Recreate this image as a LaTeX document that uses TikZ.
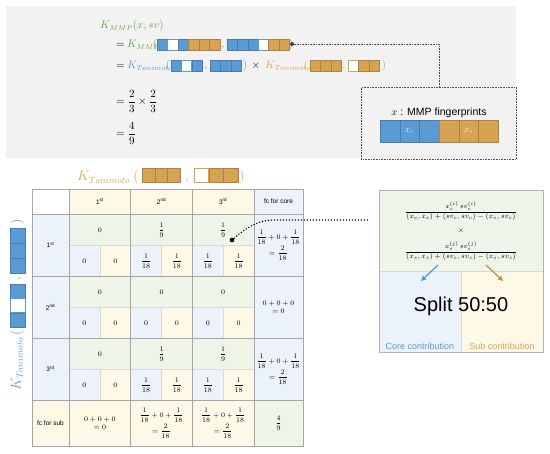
\RequirePackage{fix-cm}
\documentclass[tikz,border=0pt]{standalone}
\usepackage{amsmath}
\usepackage{fontspec}
\setsansfont{Liberation Sans}
\usetikzlibrary{positioning,arrows.meta}
\DeclareMathSizes{11}{11}{7}{5}
\DeclareMathSizes{14}{14}{9}{6}
\definecolor{mblue}{RGB}{91,155,213}
\definecolor{morange}{RGB}{214,163,82}
\definecolor{mgreen}{RGB}{106,160,72}
\definecolor{panel}{RGB}{242,242,242}
\definecolor{lgreen}{RGB}{238,245,232}
\definecolor{lblue}{RGB}{236,242,250}
\definecolor{lyellow}{RGB}{254,249,231}
\newcommand\qf[2]{\dfrac{#1}{#2}}
\newcommand\fcone{$\qf1{18}+0+\qf1{18}$\\$=\qf2{18}$}
\newcommand\fczero{$0+0+0$\\$=0$}
% bit strings: x, y, cell width, cell height, cell styles
\newcommand\fprow[5]{\foreach \s [count=\i from 0] in {#5}{\edef\tmp{\noexpand\draw[\s]}\tmp ({#1+\i*#3},#2) rectangle ++(#3,#4);}}
\newcommand\fpcol[5]{\foreach \s [count=\i from 0] in {#5}{\edef\tmp{\noexpand\draw[\s]}\tmp (#1,{#2+\i*#4}) rectangle ++(#3,#4);}}
\begin{document}
\begin{tikzpicture}[x=1pt,y=-1pt,line join=round,>=stealth,
    bb/.style={fill=mblue,draw=mblue!80!black,line width=.3pt},
    bw/.style={fill=white,draw=mblue,line width=.8pt},
    oo/.style={fill=morange,draw=morange!80!black,line width=.3pt},
    ow/.style={fill=white,draw=morange,line width=.8pt},
    ftxt/.style={inner sep=0pt,font=\fontsize{11}{13}\selectfont},
    fbig/.style={inner sep=0pt,font=\fontsize{14}{16}\selectfont},
    cell/.style={inner sep=0pt,align=center,font=\fontsize{7}{8}\selectfont},
    lab/.style={inner sep=0pt,font=\sffamily\fontsize{6.5}{7}\selectfont},
    major/.style={draw=black!35,line width=.7pt},
    minor/.style={draw=black!15,line width=.5pt},
    bigdots/.style={line width=1.6pt,dash pattern=on 0pt off 3pt,line cap=round}]
\useasboundingbox (0,0) rectangle (550,454);
% top panel
\fill[panel] (6,6) rectangle (516,158);
\node[ftxt,anchor=base west,text=mgreen] (kxsv) at (100,29) {$K_{MMP}(x,sv)$};
\node[ftxt,anchor=base west] (eqa) at (116,48) {$=$};
\node[ftxt,anchor=base west,text=mgreen] (kmmp) at (127,48) {$K_{MMP}$};
\node[ftxt,anchor=base,text=mgreen] (pa) at (155,48) {$($};
\fprow{157}{39}{10.5}{11}{bb,bw,bb,oo,oo,oo}
\node[ftxt,anchor=base,text=mgreen] (ca) at (223,48) {$,$};
\fprow{227}{39}{10.33}{11}{bb,bb,bb,bw,oo,oo}
\node[ftxt,anchor=base,text=mgreen] (pb) at (291,48) {$)$};
\coordinate (mmpdot) at (292,44);
\fill[black!75] (mmpdot) circle (2pt);
\node[ftxt,anchor=base west] (eqb) at (116,69) {$=$};
\node[ftxt,anchor=base west,text=mblue] (ktc) at (127,69) {$K_{Tanimoto}$};
\node[ftxt,anchor=base,text=mblue] (pc) at (168,69) {$($};
\fprow{171}{60}{10.33}{11}{bb,bw,bb}
\node[ftxt,anchor=base,text=mblue] (cc) at (206,69) {$,$};
\fprow{210}{60}{10.33}{11}{bb,bb,bb}
\node[ftxt,anchor=base,text=mblue] (pd) at (245,69) {$)$};
\node[ftxt,anchor=base] (tms) at (256,69) {$\times$};
\node[ftxt,anchor=base west,text=morange] (kts) at (265,69) {$K_{Tanimoto}$};
\node[ftxt,anchor=base,text=morange] (pe) at (306,69) {$($};
\fprow{310}{60}{10.33}{11}{oo,oo,oo}
\node[ftxt,anchor=base,text=morange] (cs) at (344,69) {$,$};
\fprow{348}{60}{10.33}{11}{ow,oo,oo}
\node[ftxt,anchor=base,text=morange] (pf) at (384,69) {$)$};
\node[ftxt,anchor=west] (eqc) at (116,101) {$=\dfrac{2}{3}\times\dfrac{2}{3}$};
\node[ftxt,anchor=west] (eqd) at (116,133) {$=\dfrac{4}{9}$};
% fingerprint legend
\node[draw=black!70,densely dotted,line width=.6pt,inner sep=0pt,minimum width=155pt,minimum height=72pt,anchor=north west] (fpbox) at (361,87) {};
\draw[black!70,densely dotted,line width=.6pt] (mmpdot) -| (fpbox.north);
\node[inner sep=0pt,font=\sffamily\fontsize{10.5}{12}\selectfont] (fplab) at (439,113) {$x$ : MMP fingerprints};
\fprow{380}{120}{19.67}{22}{bb,bb,bb,oo,oo,oo}
\node[inner sep=0pt,font=\fontsize{9}{10}\selectfont,text=white!80!mblue] (xc) at (409.5,131) {$x_c$};
\node[inner sep=0pt,font=\fontsize{9}{10}\selectfont,text=white!80!morange] (xs) at (468.5,131) {$x_s$};
% table
\def\cw{61.67}
\node[fbig,anchor=base west,text=morange] (ktab) at (77,181) {$K_{Tanimoto}$};
\node[fbig,anchor=base,text=morange] (pg) at (136,181) {$($};
\fprow{142}{168}{12.67}{14}{oo,oo,oo}
\node[fbig,anchor=base,text=morange] (cg) at (187,181) {$,$};
\fprow{194}{168}{14.67}{14}{ow,oo,oo}
\node[fbig,anchor=base,text=morange] (ph) at (242,181) {$)$};
\node[fbig,rotate=90,text=mblue] (kvert) at (17,364) {$K_{Tanimoto}$};
\node[fbig,rotate=90,text=mblue] (pv) at (17,333) {$($};
\fpcol{10}{284}{15}{14.33}{bb,bw,bb}
\node[fbig,rotate=90,text=mblue] (cv) at (20,279) {$,$};
\fpcol{10}{228}{15}{15}{bb,bb,bb}
\node[fbig,rotate=90,text=mblue] (qv) at (17,222) {$)$};
\fill[lyellow] (69,189) rectangle (254,214);
\fill[lblue] (254,189) rectangle (303,400) (32,214) rectangle (69,400);
\fill[lyellow] (32,400) rectangle (254,446);
\fill[lgreen] (254,400) rectangle (303,446);
\foreach \j in {0,1,2}{
  \fill[lgreen] (69,214+62*\j) rectangle (254,245+62*\j);
  \foreach \i in {0,1,2}{
    \fill[lblue] (69+\cw*\i,245+62*\j) rectangle ++(\cw/2,31);
    \fill[lyellow] (69+\cw*\i+\cw/2,245+62*\j) rectangle ++(\cw/2,31);
    \draw[minor] (69+\cw*\i+\cw/2,245+62*\j) -- ++(0,31);}
  \draw[minor] (69,245+62*\j) -- (254,245+62*\j);}
\foreach \y in {214,276,338,400} \draw[major] (32,\y) -- (303,\y);
\foreach \i in {0,1,2,3} \draw[major] (69+\cw*\i,189) -- (69+\cw*\i,446);
\draw[major] (32,189) rectangle (303,446);
\foreach \i/\t in {0/1\textsuperscript{st},1/2\textsuperscript{nd},2/3\textsuperscript{rd}}{
  \node[lab] (h\i) at (69+\cw*\i+\cw/2,201.5) {\t};
  \node[lab] (row\i) at (50.5,245+62*\i) {\t};}
\node[lab] (fccore) at (278.5,201.5) {fc for core};
\foreach \j/\tq/\bq/\fq in {0/\qf19/\qf1{18}/\fcone,1/0/0/\fczero,2/\qf19/\qf1{18}/\fcone}{
  \foreach \i/\tv/\bv in {0/0/0,1/\tq/\bq,2/\tq/\bq}{
    \node[cell] (t\j\i) at (69+\cw*\i+\cw/2,230+62*\j) {$\tv$};
    \node[cell] (l\j\i) at (69+\cw*\i+\cw/4,261+62*\j) {$\bv$};
    \node[cell] (r\j\i) at (69+\cw*\i+3*\cw/4,261+62*\j) {$\bv$};}
  \node[cell] (fc\j) at (278.5,245+62*\j) {\fq};}
\node[lab] (fcsub) at (50.5,423) {fc for sub};
\node[cell] (s0) at (69+\cw/2,423) {\fczero};
\node[cell] (s1) at (69+1.5*\cw,423) {\fcone};
\node[cell] (s2) at (69+2.5*\cw,423) {\fcone};
\node[cell] (s3) at (278.5,423) {$\qf49$};
% split box
\fill[lgreen] (379,190) rectangle (543,271);
\fill[lblue] (379,271) rectangle (461,352);
\fill[lyellow] (461,271) rectangle (543,352);
\draw[minor] (379,271) -- (543,271) (461,271) -- (461,352);
\node[draw=black!30,line width=.8pt,minimum width=164pt,minimum height=162pt,inner sep=0pt,anchor=north west] (rbox) at (379,190) {};
\node[inner sep=0pt,font=\fontsize{7}{8}\selectfont] (fcore) at (461,211) {$\dfrac{x_c^{(i)}\,sv_c^{(i)}}{(x_c,x_c)+(sv_c,sv_c)-(x_c,sv_c)}$};
\node[inner sep=0pt,font=\fontsize{7}{8}\selectfont] (ftimes) at (461,231) {$\times$};
\node[inner sep=0pt,font=\fontsize{7}{8}\selectfont] (fsub) at (461,251) {$\dfrac{x_s^{(j)}\,sv_s^{(j)}}{(x_s,x_s)+(sv_s,sv_s)-(x_s,sv_s)}$};
\coordinate (ca1) at (438,265); \coordinate (ca2) at (421,281);
\coordinate (sa1) at (486,265); \coordinate (sa2) at (503,281);
\draw[-{Triangle[length=5pt,width=5pt]},mblue,line width=1.3pt] (ca1) -- (ca2);
\draw[-{Triangle[length=5pt,width=5pt]},morange!90!black,line width=1.3pt] (sa1) -- (sa2);
\node[inner sep=0pt,font=\sffamily\fontsize{20}{24}\selectfont] (split) at (461,306) {Split 50:50};
\node[inner sep=0pt,font=\sffamily\fontsize{9}{10}\selectfont,text=mblue] (core) at (420,346) {Core contribution};
\node[inner sep=0pt,font=\sffamily\fontsize{9}{10}\selectfont,text=morange] (sub) at (502,346) {Sub contribution};
% link from table cell to split box
\coordinate (tdot) at (232,240);
\coordinate (tend) at (369,220);
\fill (tdot) circle (2.3pt);
\draw[bigdots] (tdot) .. controls (246,228) and (256,221) .. (272,220) -- (tend);
\end{tikzpicture}
\end{document}
